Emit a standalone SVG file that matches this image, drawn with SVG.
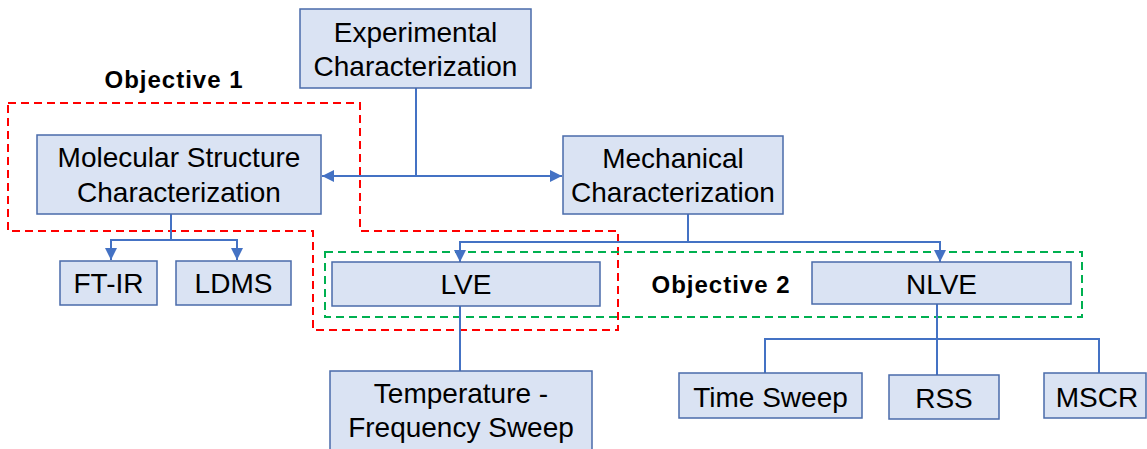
<svg xmlns="http://www.w3.org/2000/svg" width="1147" height="449" viewBox="0 0 1147 449">
<style>
.box{fill:#DAE3F3;stroke:#4A6BAA;stroke-width:1.5}
.t{font-family:"Liberation Sans",Arial,sans-serif;font-size:28px;fill:#000;text-anchor:middle}
.obj{font-family:"Liberation Sans",Arial,sans-serif;font-size:24px;font-weight:bold;letter-spacing:1px;fill:#000;text-anchor:middle}
.c{fill:none;stroke:#4472C4;stroke-width:2}
.red{fill:none;stroke:#FF0000;stroke-width:2;stroke-dasharray:8,5}
.green{fill:none;stroke:#00B050;stroke-width:2;stroke-dasharray:8,5}
</style>
<defs>
<marker id="ah" viewBox="0 0 10 10" refX="10" refY="5" markerWidth="6" markerHeight="6" orient="auto" markerUnits="strokeWidth">
<path d="M0,0 L10,5 L0,10 z" fill="#4472C4"/>
</marker>
</defs>
<rect width="1147" height="449" fill="#fff"/>
<g id="regions">
<path class="red" d="M8,103 H360 V231 H618 V330 H313 V231 H8 Z"/>
<rect class="green" x="325" y="252" width="757" height="65"/>
<text class="obj" x="174" y="88">Objective 1</text>
<text class="obj" x="721" y="293">Objective 2</text>
</g>
<g id="connectors">
<path class="c" d="M416,88 V176"/>
<path class="c" d="M416,176 H322" marker-end="url(#ah)"/>
<path class="c" d="M416,176 H562" marker-end="url(#ah)"/>
<path class="c" d="M171,214 V240"/>
<path class="c" d="M171,240 H111 V260" marker-end="url(#ah)"/>
<path class="c" d="M171,240 H237 V260" marker-end="url(#ah)"/>
<path class="c" d="M688,214 V242"/>
<path class="c" d="M688,242 H460 V262" marker-end="url(#ah)"/>
<path class="c" d="M688,242 H940 V262" marker-end="url(#ah)"/>
<path class="c" d="M460,306 V371"/>
<path class="c" d="M937,304 V339"/>
<path class="c" d="M937,339 H765 V373"/>
<path class="c" d="M937,339 H1099 V373"/>
<path class="c" d="M937,339 V375"/>
</g>
<g id="experimental">
<rect class="box" x="300" y="9" width="231" height="79"/>
<text class="t" x="415.5" y="42">Experimental</text>
<text class="t" x="415.5" y="76">Characterization</text>
</g>
<g id="molecular">
<rect class="box" x="37" y="135" width="284" height="79"/>
<text class="t" x="179" y="167">Molecular Structure</text>
<text class="t" x="179" y="202">Characterization</text>
</g>
<g id="mechanical">
<rect class="box" x="563" y="136" width="220" height="78"/>
<text class="t" x="673" y="168">Mechanical</text>
<text class="t" x="673" y="202">Characterization</text>
</g>
<g id="ftir">
<rect class="box" x="60" y="261" width="97" height="44"/>
<text class="t" x="108.5" y="293">FT-IR</text>
</g>
<g id="ldms">
<rect class="box" x="176" y="261" width="115" height="44"/>
<text class="t" x="233.5" y="293">LDMS</text>
</g>
<g id="lve">
<rect class="box" x="332" y="262" width="268" height="44"/>
<text class="t" x="466" y="294">LVE</text>
</g>
<g id="nlve">
<rect class="box" x="812" y="262" width="259" height="42"/>
<text class="t" x="941.5" y="294">NLVE</text>
</g>
<g id="tfs">
<rect class="box" x="330" y="371" width="262" height="90"/>
<text class="t" x="461" y="403">Temperature -</text>
<text class="t" x="461" y="437">Frequency Sweep</text>
</g>
<g id="timesweep">
<rect class="box" x="679" y="373" width="183" height="45"/>
<text class="t" x="770.5" y="407">Time Sweep</text>
</g>
<g id="rss">
<rect class="box" x="889" y="375" width="110" height="44"/>
<text class="t" x="944" y="408">RSS</text>
</g>
<g id="mscr">
<rect class="box" x="1044" y="373" width="102" height="45"/>
<text class="t" x="1097" y="407">MSCR</text>
</g>
</svg>
